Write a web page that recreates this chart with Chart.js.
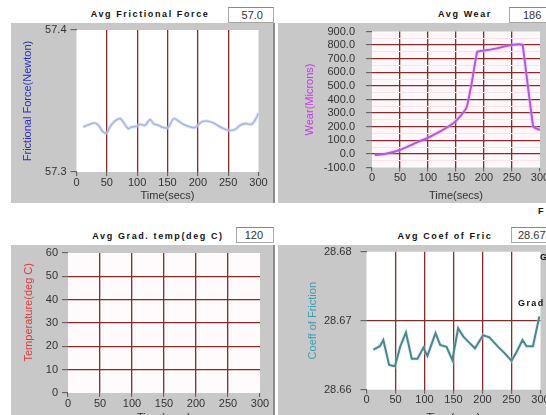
<!DOCTYPE html>
<html>
<head>
<meta charset="utf-8">
<script src="https://cdn.jsdelivr.net/npm/chart.js@4/dist/chart.umd.min.js"></script>
<style>
  html, body { margin: 0; padding: 0; background: #fff; }
  body { width: 546px; height: 415px; overflow: hidden; position: relative; font-family: "Liberation Sans", Arial, sans-serif; }
  .panel { position: absolute; background: #c8c8c8; overflow: hidden; }
  .panel canvas { position: absolute; left: 0; top: 0; }
  .title { position: absolute; font: bold 9px "Liberation Sans", Arial, sans-serif; letter-spacing: 1.6px; color: #111; text-align: center; white-space: nowrap; }
  .valbox { position: absolute; background: #fff; border: 1px solid #a8a8a8; border-top-color: #888; font-size: 11px; color: #333; line-height: 14px; white-space: nowrap; overflow: hidden; box-sizing: border-box; }
  .stray { position: absolute; font: bold 9px "Liberation Sans", Arial, sans-serif; letter-spacing: 1.4px; color: #111; white-space: nowrap; }
  .divider { position: absolute; left: 273px; width: 2px; background: #8c8c8c; }
</style>
</head>
<body>

<div class="title" style="left:60px; top:9px; width:180px;">Avg Frictional Force</div>
<div class="valbox" style="left:228px; top:7px; width:46px; height:16px; text-align:right; padding-right:10px;">57.0</div>

<div class="title" style="left:420px; top:9px; width:90px;">Avg Wear</div>
<div class="valbox" style="left:509px; top:7px; width:44px; height:16px; padding-left:13px;">186</div>

<div class="title" style="left:68px; top:231px; width:180px;">Avg Grad. temp(deg C)</div>
<div class="valbox" style="left:236px; top:227px; width:38px; height:16px; text-align:right; padding-right:10px;">120</div>

<div class="title" style="left:385px; top:231px; width:120px;">Avg Coef of Fric</div>
<div class="valbox" style="left:511px; top:227px; width:44px; height:16px; padding-left:6px;">28.67</div>

<div class="panel" style="left:11px; top:23px; width:262px; height:180px;"><canvas id="forceChart" width="262" height="180"></canvas></div>
<div class="panel" style="left:278px; top:23px; width:268px; height:180px;"><canvas id="wearChart" width="268" height="180"></canvas></div>
<div class="panel" style="left:11px; top:245px; width:262px; height:170px;"><canvas id="tempChart" width="262" height="180"></canvas></div>
<div class="panel" style="left:278px; top:245px; width:268px; height:170px;"><canvas id="coefChart" width="268" height="180"></canvas></div>

<div class="divider" style="top:23px; height:180px;"></div>
<div class="divider" style="top:245px; height:170px;"></div>

<div class="stray" style="left:538px; top:206px;">F</div>
<div class="stray" style="left:540px; top:252px;">G</div>
<div class="stray" style="left:518px; top:298px;">Grad</div>

<script>
// time axis shared by all four graphs
const timeTicks = [0, 50, 100, 150, 200, 250, 300];

// Avg Frictional Force
const forceTime = [11, 22, 30, 36, 44, 50, 55, 63, 72, 77, 85, 91, 99, 105, 113, 121, 127, 135, 143, 151, 160, 168, 176, 184, 195, 206, 215, 226, 237, 250, 261, 270, 278, 289, 297, 300];
const forceValue = [57.3317, 57.3336, 57.3345, 57.3329, 57.3282, 57.3275, 57.3317, 57.3359, 57.3376, 57.3352, 57.3306, 57.3317, 57.3322, 57.3336, 57.3329, 57.3369, 57.3341, 57.3329, 57.3313, 57.3313, 57.3376, 57.3359, 57.3336, 57.3322, 57.3313, 57.3352, 57.3359, 57.3345, 57.3317, 57.3294, 57.3299, 57.3329, 57.3341, 57.3336, 57.3387, 57.3415];
const forceTicks = [57.3, 57.4];

// Avg Wear
const wearTime = [5, 20, 50, 74, 98, 121, 145, 157, 169, 178, 188, 199, 223, 246, 264, 269, 288, 300];
const wearValue = [-8, -3, 29, 73, 115, 163, 225, 274, 343, 519, 751, 759, 776, 799, 806, 801, 200, 176];
const wearTicks = [-100, -50, 0, 50, 100, 150, 200, 250, 300, 350, 400, 450, 500, 550, 600, 650, 700, 750, 800, 850, 900];

// Avg Grad. temp (no trace recorded)
const tempTime = [];
const tempValue = [];
const tempTicks = [0, 10, 20, 30, 40, 50, 60];

// Avg Coef of Fric
const coefTime = [12, 23, 29, 39, 49, 58, 68, 78, 88, 98, 105, 119, 127, 138, 148, 158, 167, 175, 187, 201, 212, 227, 238, 250, 259, 269, 276, 287, 298];
const coefValue = [28.6658, 28.6663, 28.6672, 28.6636, 28.6634, 28.6662, 28.6683, 28.6645, 28.6645, 28.6661, 28.6649, 28.6682, 28.6665, 28.6662, 28.6643, 28.6689, 28.6677, 28.6670, 28.6660, 28.6679, 28.6676, 28.6662, 28.6653, 28.6642, 28.6655, 28.6672, 28.6663, 28.6663, 28.6706];
const coefTicks = [28.66, 28.67, 28.68];

const gridRed = '#872a2a';
const minorPink = '#f8e3e8';
const tickFont = { family: '"Liberation Sans", Arial, sans-serif', size: 11 };
const labelFont = { family: '"Liberation Sans Narrow", "Liberation Sans", Arial, sans-serif', size: 11 };

// white plot area on the grey panel
const plotBg = {
    id: 'plotBg',
    beforeDraw(chart, args, opts) {
        const { ctx, chartArea: a } = chart;
        ctx.save();
        ctx.fillStyle = opts.color || '#fff';
        ctx.fillRect(a.left, a.top, a.right - a.left, a.bottom - a.top);
        ctx.restore();
    }
};

function toPoints(xs, ys) {
    return xs.map((x, i) => ({ x: x, y: ys[i] }));
}

function buildGraph(id, o) {
    const yMin = o.yTicks[0];
    const yMax = o.yTicks[o.yTicks.length - 1];
    const isMajor = v => o.majorTest ? o.majorTest(v) : true;
    return new Chart(document.getElementById(id), {
        type: 'line',
        data: { datasets: o.datasets },
        options: {
            responsive: false,
            animation: false,
            layout: { padding: { top: o.padTop, right: o.padRight, left: 0, bottom: 0 } },
            plugins: {
                legend: { display: false },
                tooltip: { enabled: false },
                plotBg: { color: o.bg }
            },
            scales: {
                x: {
                    type: 'linear', min: 0, max: 300,
                    afterBuildTicks: s => { s.ticks = timeTicks.map(v => ({ value: v })); },
                    afterFit: s => { s.height = o.xAxisH; s.paddingLeft = 0; s.paddingRight = 0; },
                    border: { display: false },
                    grid: {
                        color: c => (c.tick && (c.tick.value === 0 || c.tick.value === 300)) ? 'transparent' : gridRed,
                        lineWidth: 1.3,
                        tickLength: 4,
                        tickColor: '#555',
                        tickWidth: 1
                    },
                    ticks: { color: '#333', font: tickFont, padding: 0, maxRotation: 0, autoSkip: false },
                    title: { display: true, text: 'Time(secs)', color: '#333', font: tickFont, padding: { top: 0, bottom: o.xTitlePad } }
                },
                y: {
                    type: 'linear', min: yMin, max: yMax,
                    afterBuildTicks: s => { s.ticks = o.yTicks.map(v => ({ value: v })); },
                    afterFit: s => { s.width = o.yAxisW; s.paddingTop = 0; s.paddingBottom = 0; },
                    border: { display: false },
                    grid: {
                        color: c => {
                            const v = c.tick ? c.tick.value : null;
                            if (v === yMin || v === yMax) return 'transparent';
                            return isMajor(v) ? gridRed : minorPink;
                        },
                        lineWidth: c => (c.tick && isMajor(c.tick.value)) ? 1.3 : 1,
                        tickLength: 6,
                        tickColor: c => (c.tick && isMajor(c.tick.value)) ? '#555' : 'transparent',
                        tickWidth: 1
                    },
                    ticks: {
                        color: '#333', font: tickFont, padding: o.yTickPad, autoSkip: false,
                        callback: v => isMajor(v) ? v.toFixed(o.decimals) : ''
                    },
                    title: { display: true, text: o.yTitle, color: o.yTitleColor, font: labelFont, padding: { top: o.yTitlePad, bottom: 0 } }
                }
            }
        },
        plugins: [plotBg]
    });
}

buildGraph('forceChart', {
    datasets: [
        { data: toPoints(forceTime, forceValue), borderColor: 'rgba(200,210,240,0.5)', borderWidth: 3.5, pointRadius: 0, tension: 0.35 },
        { data: toPoints(forceTime, forceValue), borderColor: '#879dd2', borderWidth: 1.6, pointRadius: 0, tension: 0.35 }
    ],
    yTicks: forceTicks, decimals: 1, yTickPad: 4,
    yTitle: 'Frictional Force(Newton)', yTitleColor: '#2b2bc0', yTitlePad: 10,
    padTop: 7, padRight: 14.5, yAxisW: 65.5, xAxisH: 31, xTitlePad: 0, bg: '#ffffff'
});

buildGraph('wearChart', {
    datasets: [
        { data: toPoints(wearTime, wearValue), borderColor: 'rgba(240,170,255,0.35)', borderWidth: 4.5, pointRadius: 0, tension: 0.1 },
        { data: toPoints(wearTime, wearValue), borderColor: '#8a33c4', borderWidth: 2, pointRadius: 0, tension: 0.1 }
    ],
    yTicks: wearTicks, decimals: 1, majorTest: v => v % 100 === 0, yTickPad: 11,
    yTitle: 'Wear(Microns)', yTitleColor: '#c23be8', yTitlePad: 25,
    padTop: 8.5, padRight: 6, yAxisW: 94, xAxisH: 35.5, xTitlePad: 0, bg: '#fff8fa'
});

buildGraph('tempChart', {
    datasets: [
        { data: toPoints(tempTime, tempValue), borderColor: '#d02020', borderWidth: 2, pointRadius: 0 }
    ],
    yTicks: tempTicks, decimals: 0, yTickPad: 4,
    yTitle: '       Temperature(deg C)', yTitleColor: '#e03a3a', yTitlePad: 11,
    padTop: 8, padRight: 13, yAxisW: 57, xAxisH: 32, xTitlePad: 0, bg: '#fffafb'
});

buildGraph('coefChart', {
    datasets: [
        { data: toPoints(coefTime, coefValue), borderColor: 'rgba(170,235,240,0.4)', borderWidth: 4, pointRadius: 0, tension: 0 },
        { data: toPoints(coefTime, coefValue), borderColor: '#183f45', borderWidth: 2, pointRadius: 0, tension: 0 }
    ],
    yTicks: coefTicks, decimals: 2, yTickPad: 9,
    yTitle: 'Coeff of Friction', yTitleColor: '#3a9fb0', yTitlePad: 28,
    padTop: 6.7, padRight: 5.5, yAxisW: 88.5, xAxisH: 35.3, xTitlePad: 0, bg: '#ffffff'
});
</script>
</body>
</html>
